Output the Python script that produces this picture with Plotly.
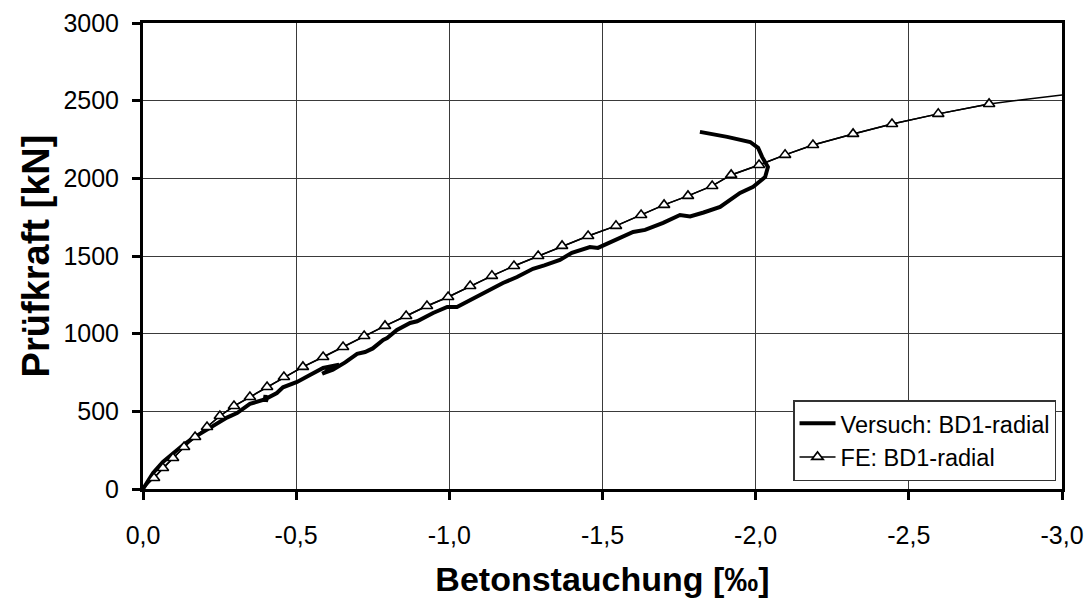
import plotly.graph_objects as go

# Versuch: gemessene Betonstauchung [‰] und Prüfkraft [kN]
versuch_strain = [0.0, -0.010, -0.033, -0.065, -0.098, -0.131, -0.163, -0.209, -0.242, -0.274,
                  -0.307, -0.349, -0.392, -0.398, -0.400, -0.401, -0.405, -0.437, -0.457, -0.480,
                  -0.503, -0.545, -0.588, -0.640, -0.590, -0.585, -0.620, -0.660, -0.699, -0.725,
                  -0.750, -0.784, -0.797, -0.829, -0.872, -0.895, -0.947, -0.993, -1.025, -1.068,
                  -1.123, -1.175, -1.221, -1.273, -1.310, -1.361, -1.400, -1.459, -1.485, -1.525,
                  -1.600, -1.639, -1.698, -1.753, -1.786, -1.830, -1.884, -1.949, -1.992, -2.031,
                  -2.040, -2.021, -2.008, -1.982, -1.907, -1.818]
versuch_load = [0, 30, 103, 174, 232, 283, 328, 385, 420, 460,
                489, 548, 573, 580, 605, 562, 585, 618, 655, 675,
                689, 734, 779, 800, 750, 742, 768, 815, 870, 882,
                905, 960, 972, 1024, 1069, 1080, 1133, 1172, 1172, 1217,
                1269, 1326, 1365, 1418, 1440, 1475, 1520, 1558, 1552, 1590,
                1655, 1668, 1713, 1764, 1755, 1780, 1816, 1906, 1945, 2009,
                2073, 2138, 2196, 2234, 2267, 2299]

# FE-Berechnung: Stützstellen (Dreiecke)
fe_strain = [-0.036, -0.065, -0.098, -0.134, -0.170, -0.209, -0.251, -0.297, -0.349, -0.405,
             -0.460, -0.522, -0.588, -0.653, -0.722, -0.790, -0.859, -0.927, -0.996, -1.068,
             -1.139, -1.211, -1.290, -1.368, -1.453, -1.544, -1.626, -1.701, -1.779, -1.858,
             -1.920, -2.011, -2.096, -2.187, -2.318, -2.445, -2.596, -2.762]
fe_load = [71, 135, 200, 270, 335, 399, 470, 534, 592, 657,
           721, 786, 850, 914, 985, 1050, 1114, 1178, 1236, 1307,
           1372, 1436, 1500, 1565, 1629, 1694, 1764, 1829, 1887, 1951,
           2022, 2086, 2151, 2215, 2286, 2350, 2415, 2479]
# FE-Kurve vom Ursprung bis zum Diagrammrand
fe_start = (0.0, 0)
fe_end = (-3.0, 2537)

x_ticks = [0.0, -0.5, -1.0, -1.5, -2.0, -2.5, -3.0]
x_ticktext = ["0,0", "-0,5", "-1,0", "-1,5", "-2,0", "-2,5", "-3,0"]
y_ticks = [0, 500, 1000, 1500, 2000, 2500, 3000]

FONT = "Liberation Sans, Arial, sans-serif"

fig = go.Figure()

fig.add_trace(go.Scatter(
    x=versuch_strain, y=versuch_load, mode="lines",
    name="Versuch: BD1-radial",
    line=dict(color="black", width=4),
))

fig.add_trace(go.Scatter(
    x=[fe_start[0]] + fe_strain + [fe_end[0]],
    y=[fe_start[1]] + fe_load + [fe_end[1]],
    mode="lines", showlegend=False, hoverinfo="skip",
    line=dict(color="black", width=1.5),
))

fig.add_trace(go.Scatter(
    x=fe_strain, y=fe_load, mode="lines+markers",
    name="FE: BD1-radial",
    line=dict(color="black", width=1.5),
    marker=dict(symbol="triangle-up", size=10, color="white",
                line=dict(color="black", width=1.6)),
))

axis_common = dict(
    showline=True, linecolor="black", linewidth=3, mirror=True,
    ticks="outside", ticklen=8, tickwidth=3, tickcolor="black",
    showgrid=True, gridcolor="#3a3a3a", gridwidth=1,
    zeroline=False, automargin=False,
    tickfont=dict(family=FONT, size=25, color="black"),
)

fig.update_xaxes(
    range=[0, -3.0], tickvals=x_ticks, ticktext=x_ticktext,
    title=dict(text="<b>Betonstauchung [‰]</b>", standoff=20,
               font=dict(family=FONT, size=34, color="black")),
    ticklabelstandoff=14,
    **axis_common,
)
fig.update_yaxes(
    range=[0, 3000], tickvals=y_ticks,
    title=dict(text="<b>Prüfkraft [kN]</b>", standoff=3,
               font=dict(family=FONT, size=38, color="black")),
    ticklabelstandoff=8,
    **axis_common,
)

fig.update_layout(
    width=1086, height=601,
    margin=dict(l=143, r=24, t=23, b=112),
    paper_bgcolor="white", plot_bgcolor="white",
    font=dict(family=FONT, color="black"),
    legend=dict(
        x=0.9935, y=0.017, xanchor="right", yanchor="bottom",
        bgcolor="white", bordercolor="#333", borderwidth=1.5,
        font=dict(family=FONT, size=23.5, color="black"),
        itemwidth=36, tracegroupgap=0,
    ),
)

fig.write_html("out.html")
